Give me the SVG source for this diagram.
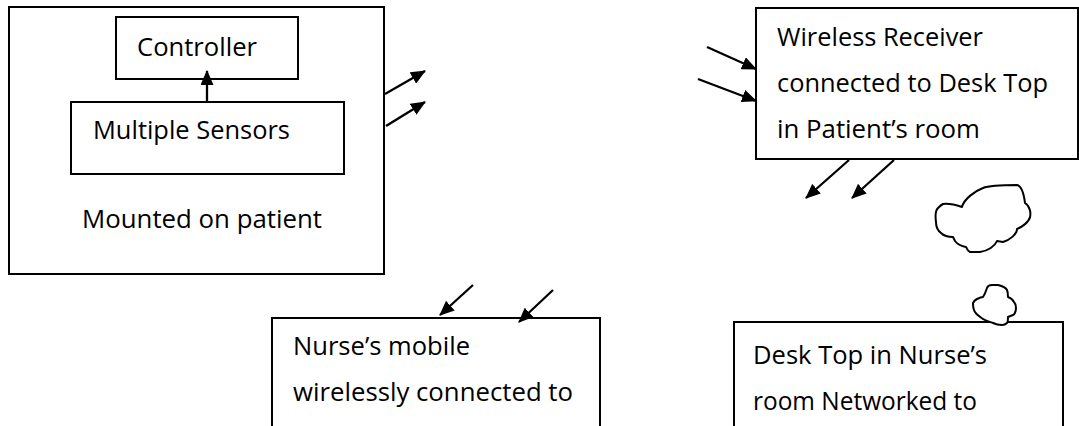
<svg xmlns="http://www.w3.org/2000/svg" width="1079" height="426" viewBox="0 0 1079 426">
<style>
.box{fill:#fff;stroke:#000;stroke-width:2}
.t{font-family:"Open Sans","Liberation Sans",sans-serif;font-size:25.5px;fill:#000}
.c{stroke:#000;stroke-width:2.3;fill:none;marker-end:url(#ah)}
.cloud{fill:#fff;stroke:#000;stroke-width:2;stroke-linejoin:round}
</style>
<defs>
<marker id="ah" viewBox="0 0 15 13" refX="14" refY="6.5" markerWidth="15" markerHeight="13" markerUnits="userSpaceOnUse" orient="auto">
<path d="M0,0 L15,6.5 L0,13 Z" fill="#000"/>
</marker>
</defs>
<rect width="1079" height="426" fill="#fff"/>
<g id="patient">
<rect class="box" x="9" y="7" width="375" height="267"/>
<text class="t" x="82" y="228" textLength="240" lengthAdjust="spacingAndGlyphs">Mounted on patient</text>
</g>
<g id="controller">
<rect class="box" x="116" y="17" width="182" height="62"/>
<text class="t" x="137" y="56" textLength="120" lengthAdjust="spacingAndGlyphs">Controller</text>
</g>
<g id="sensors">
<rect class="box" x="71" y="102" width="273" height="72"/>
<text class="t" x="93" y="139" textLength="197" lengthAdjust="spacingAndGlyphs">Multiple Sensors</text>
</g>
<g id="receiver">
<rect class="box" x="756" y="8" width="322" height="151"/>
<text class="t" x="777" y="46" textLength="206" lengthAdjust="spacingAndGlyphs">Wireless Receiver</text>
<text class="t" x="777" y="92" textLength="271" lengthAdjust="spacingAndGlyphs">connected to Desk Top</text>
<text class="t" x="777" y="138" textLength="203" lengthAdjust="spacingAndGlyphs">in Patient’s room</text>
</g>
<g id="nurse-mobile">
<rect class="box" x="272" y="318" width="328" height="130"/>
<text class="t" x="293" y="355" textLength="177" lengthAdjust="spacingAndGlyphs">Nurse’s mobile</text>
<text class="t" x="293" y="401" textLength="280" lengthAdjust="spacingAndGlyphs">wirelessly connected to</text>
</g>
<g id="nurse-desktop">
<rect class="box" x="734" y="322" width="329" height="130"/>
<text class="t" x="753" y="364" textLength="234" lengthAdjust="spacingAndGlyphs">Desk Top in Nurse’s</text>
<text class="t" x="753" y="410" textLength="224" lengthAdjust="spacingAndGlyphs">room Networked to</text>
</g>
<g id="cloud-large">
<path class="cloud" d="M943,204 C950,203 956,205 962,207 C964,199 975,191 983,188 C990,185 1008,185 1017,185 C1022,186 1024,195 1025,203 C1030,206 1031,213 1030,217 C1029,222 1022,227 1017,229 C1017,234 1010,240 1003,242 L997,241 C995,246 988,251 980,252 C975,252 972,252 970,252 C967,251 967,248 966,247 C961,246 958,245 955,241 L953,237 C948,237 943,235 941,233 C937,230 936,226 936,222 C935,215 936,210 938,208 C940,206 941,205 943,204 Z"/>
</g>
<g id="cloud-small">
<path class="cloud" d="M983,297 C985,294 986,291 987,288 C988,285 990,285 992,285 L998,285 C1002,286 1006,288 1007,290 C1008,292 1008,295 1008,297 C1011,298 1013,300 1014,302 C1016,304 1016,306 1016,308 C1016,312 1014,315 1013,315 L1008,317 C1008,320 1008,322 1007,323 C1005,325 1003,325 1002,325 C998,325 995,324 993,323 C990,322 986,321 983,319 C980,317 977,315 975,312 C973,309 973,306 973,303 C974,301 975,300 977,299 C979,298 981,297 983,297 Z"/>
</g>
<g id="connectors">
<line class="c" x1="207" y1="102" x2="207" y2="71"/>
<line class="c" x1="385" y1="94" x2="425" y2="71"/>
<line class="c" x1="386" y1="126" x2="425" y2="102"/>
<line class="c" x1="707" y1="47" x2="756" y2="69"/>
<line class="c" x1="698" y1="79" x2="756" y2="101"/>
<line class="c" x1="849" y1="160" x2="806" y2="198"/>
<line class="c" x1="894" y1="160" x2="852" y2="198"/>
<line class="c" x1="473" y1="285" x2="440" y2="315"/>
<line class="c" x1="553" y1="290" x2="519" y2="322"/>
</g>
</svg>
